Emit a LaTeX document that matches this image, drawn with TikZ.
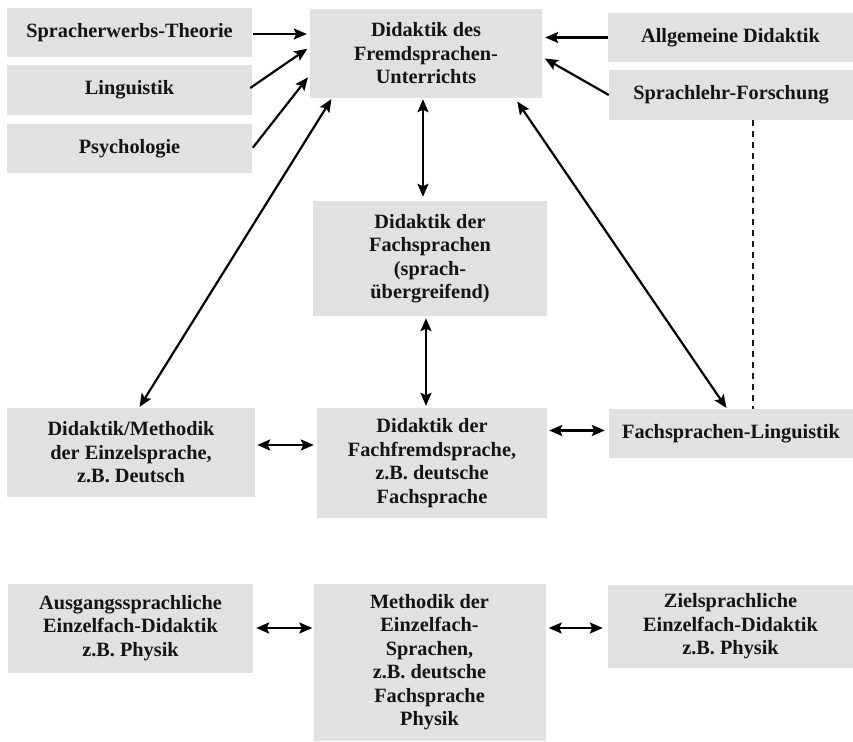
\documentclass[tikz,border=0pt]{standalone}
\usepackage{fontspec}
\setmainfont{Liberation Serif}
\usetikzlibrary{arrows.meta,calc}
\definecolor{boxgray}{RGB}{225,225,225}
\definecolor{txt}{RGB}{20,20,20}
\tikzset{
  box/.style={fill=boxgray, draw=none, inner sep=0pt, align=center, text=txt,
    font=\fontsize{20.3}{23.5}\selectfont\bfseries},
  tip/.tip={Stealth[length=13pt,width=11pt,inset=2.5pt]},
  conn/.style={line width=2.2pt, draw=black, -tip},
  biconn/.style={line width=2.2pt, draw=black, tip-tip},
  dashconn/.style={line width=1.8pt, draw=black!90, dash pattern=on 6pt off 5pt}
}
\begin{document}
\begin{tikzpicture}[x=1pt,y=-1pt]
\useasboundingbox (0,0) rectangle (853,741);
% top row
\node[box, minimum width=245pt, minimum height=49pt] (A) at (129.5,32.5) {Spracherwerbs-Theorie};
\node[box, minimum width=245pt, minimum height=50pt] (B) at (129.5,90) {Linguistik};
\node[box, minimum width=245pt, minimum height=49pt] (C) at (129.5,148.5) {Psychologie};
\node[box, minimum width=232pt, minimum height=89pt] (D) at (426,53.5) {Didaktik des\\Fremdsprachen-\\Unterrichts};
\node[box, minimum width=245pt, minimum height=49pt] (E) at (730.5,37.5) {Allgemeine Didaktik};
\node[box, minimum width=244pt, minimum height=50pt] (F) at (731,95) {Sprachlehr-Forschung};
% middle
\node[box, minimum width=234pt, minimum height=115pt] (G) at (430,258.5) {Didaktik der\\Fachsprachen\\(sprach-\\übergreifend)};
\node[box, minimum width=248pt, minimum height=89pt] (H) at (131,452.5) {Didaktik/Methodik\\der Einzelsprache,\\z.B. Deutsch};
\node[box, minimum width=230pt, minimum height=110pt] (I) at (432,463) {Didaktik der\\Fachfremdsprache,\\z.B. deutsche\\Fachsprache};
\node[box, minimum width=244pt, minimum height=49pt] (J) at (731,433.5) {Fachsprachen-Linguistik};
% bottom
\node[box, minimum width=245pt, minimum height=89pt] (K) at (130.5,628) {Ausgangssprachliche\\Einzelfach-Didaktik\\z.B. Physik};
\node[box, minimum width=232pt, minimum height=157pt] (L) at (429.5,662) {Methodik der\\Einzelfach-\\Sprachen,\\z.B. deutsche\\Fachsprache\\Physik};
\node[box, minimum width=245pt, minimum height=83pt] (M) at (730.5,626.5) {Zielsprachliche\\Einzelfach-Didaktik\\z.B. Physik};
% connectors into D
\coordinate (ad) at ($(A.east)+(0,1.5)$);
\draw[conn, shorten <=1pt, shorten >=3pt] (ad) -- (ad -| D.west);
\draw[conn, shorten >=3pt] ($(B.east)+(-2,-2)$) -- ($(D.west)+(0,-6.5)$);
\draw[conn, shorten <=1pt, shorten >=3pt] (C.east) -- ($(D.west)+(0,21.5)$);
\draw[conn, shorten >=3pt] (E.west) -- (E.west -| D.east);
\draw[conn, shorten >=3pt] (F.west) -- ($(D.east)+(0,3.5)$);
% long diagonals
\coordinate (hd) at ($(H.north)+(8,0)$);
\coordinate (dh) at ($(D.south)+(-94,0)$);
\draw[biconn, shorten <=1pt, shorten >=1pt] (hd) -- (dh);
\coordinate (dj) at ($(D.south)+(89,0)$);
\coordinate (jd) at ($(J.north)+(-4,0)$);
\draw[biconn, shorten <=4pt, shorten >=1pt] (dj) -- (jd);
% verticals
\coordinate (dg) at ($(D.south)+(-3,0)$);
\draw[biconn, shorten <=1pt, shorten >=4pt] (dg) -- (dg |- G.north);
\coordinate (gi) at ($(G.south)+(-4,0)$);
\draw[biconn, shorten <=2pt, shorten >=2pt] (gi) -- (gi |- I.north);
% dashed
\coordinate (fj) at ($(F.south)+(22,0)$);
\draw[dashconn] (fj) -- (fj |- J.north);
% horizontal pairs
\coordinate (hi) at ($(H.east)+(0,-7.5)$);
\draw[biconn, shorten <=2pt, shorten >=3pt] (hi) -- (hi -| I.west);
\coordinate (ij) at ($(J.west)+(0,-3)$);
\draw[biconn, shorten <=2pt, shorten >=4pt] (ij -| I.east) -- (ij);
\draw[biconn, shorten <=3pt, shorten >=1pt] (K.east) -- (K.east -| L.west);
\coordinate (lm) at ($(M.west)+(0,1.5)$);
\draw[biconn, shorten <=3pt, shorten >=5pt] (lm -| L.east) -- (lm);
\end{tikzpicture}
\end{document}
